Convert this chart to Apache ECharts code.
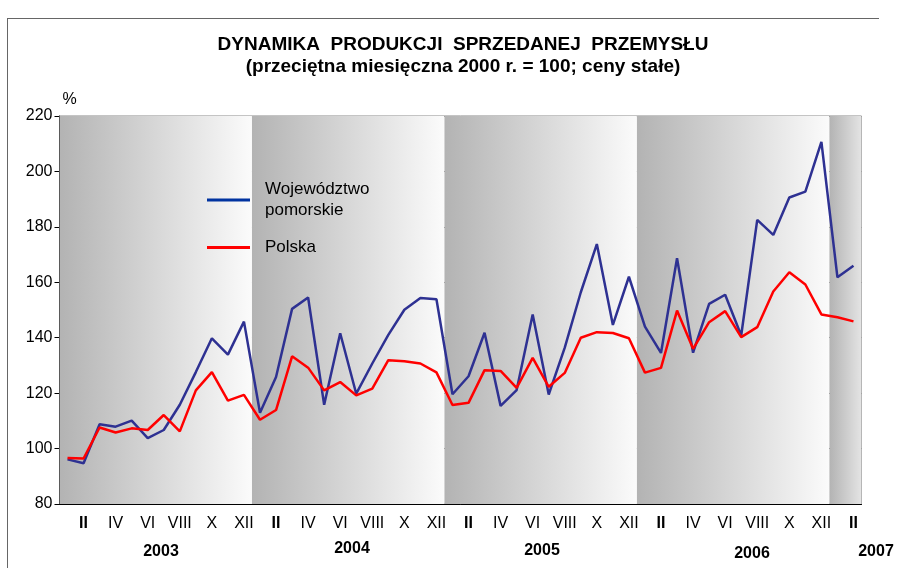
<!DOCTYPE html>
<html><head><meta charset="utf-8">
<script src="https://cdn.jsdelivr.net/npm/echarts@6/dist/echarts.min.js"></script>
<style>html,body{margin:0;padding:0;background:#fff}#c{width:898px;height:568px}</style>
</head><body><div id="c"></div>
<script>
const years = ['2003', '2004', '2005', '2006', '2007'];
const monthLabels = ['I','II','III','IV','V','VI','VII','VIII','IX','X','XI','XII'];
const monthsInLastYear = 2;
const pomorskie = [
  96.1, 94.7, 108.8, 107.9, 110.1, 103.8, 106.7, 115.8, 127.6, 139.8, 133.9, 145.8,
  112.9, 125.8, 150.4, 154.5, 115.8, 141.6, 119.8, 130.7, 141.0, 150.1, 154.3, 153.9,
  119.6, 126.1, 141.8, 115.4, 121.1, 148.4, 119.5, 136.4, 156.4, 173.8, 144.6, 162.0,
  144.0, 134.5, 168.7, 134.6, 152.2, 155.5, 140.8, 182.5, 177.1, 190.6, 192.7, 210.7,
  161.8, 166.0
];
const polska = [
  96.6, 96.4, 107.6, 105.8, 107.3, 106.7, 112.1, 106.2, 121.0, 127.6, 117.3, 119.4,
  110.4, 113.9, 133.3, 129.2, 121.0, 124.0, 119.2, 121.6, 131.9, 131.5, 130.7, 127.5,
  115.7, 116.5, 128.3, 128.0, 121.9, 132.7, 122.3, 127.3, 140.0, 142.0, 141.7, 139.8,
  127.4, 129.1, 149.8, 136.0, 145.6, 149.6, 140.2, 143.8, 156.7, 163.6, 159.2, 148.4,
  147.4, 145.9
];
const yAxisMin = 80, yAxisMax = 220, yAxisStep = 20;
const seriesNames = ['Województwo\npomorskie', 'Polska'];

// categories built from years x months
const categories = [];
years.forEach((y, yi) => {
  const n = yi === years.length - 1 ? monthsInLastYear : 12;
  for (let m = 0; m < n; m++) categories.push(monthLabels[m] + ' ' + y);
});

// background year bands (on hidden value axis measured in months)
const bandAreas = [];
years.forEach((y, yi) => {
  const start = yi * 12;
  const end = Math.min(start + 12, categories.length);
  const last = end - start < 12;
  bandAreas.push([{
    xAxis: start,
    itemStyle: {
      color: new echarts.graphic.LinearGradient(0, 0, 1, 0, [
        { offset: 0, color: '#b3b3b3' },
        { offset: 1, color: last ? '#e4e4e4' : '#fbfbfb' }
      ])
    }
  }, { xAxis: end }]);
});

const FONT = '"Liberation Sans", Arial, sans-serif';
const chart = echarts.init(document.getElementById('c'), null, { renderer: 'canvas' });

const yearLabelX = [161, 352, 542, 752, 876];
const yearLabelY = [552, 549, 551, 554, 552];

const option = {
  animation: false,
  backgroundColor: '#ffffff',
  title: {
    text: 'DYNAMIKA  PRODUKCJI  SPRZEDANEJ  PRZEMYSŁU\n(przeciętna miesięczna 2000 r. = 100; ceny stałe)',
    left: 463, top: 34, textAlign: 'center', padding: 0,
    textStyle: { fontFamily: FONT, fontSize: 19, fontWeight: 'bold', color: '#000', lineHeight: 22 }
  },
  legend: {
    orient: 'vertical', left: 207, top: 179, itemWidth: 43, itemHeight: 3, itemGap: 16,
    padding: 0, icon: 'rect',
    textStyle: { fontFamily: FONT, fontSize: 17, color: '#000', lineHeight: 21, padding: [0, 0, 0, 10] },
    itemStyle: { borderWidth: 0 },
    data: [
      { name: seriesNames[0], itemStyle: { color: '#0033a0' } },
      { name: seriesNames[1], itemStyle: { color: '#ff0000' } }
    ],
    selectedMode: false
  },
  grid: { left: 59.5, top: 116, width: 802, height: 388, show: true, borderColor: '#888', borderWidth: 1, backgroundColor: 'transparent' },
  xAxis: [{
    type: 'category', data: categories, boundaryGap: true,
    axisLine: { lineStyle: { color: '#000', width: 1 } },
    axisTick: { interval: 0, length: 5, lineStyle: { color: '#000' } },
    axisLabel: {
      interval: (i) => i % 2 === 1, margin: 12,
      fontFamily: FONT, fontSize: 16, color: '#000',
      formatter: (v) => {
        const m = v.split(' ')[0];
        return m === 'II' ? '{b|' + m + '}' : m;
      },
      rich: { b: { fontFamily: FONT, fontSize: 16, fontWeight: 'bold', color: '#000' } }
    },
    splitLine: { show: false }
  }, {
    type: 'value', min: 0, max: categories.length, show: false
  }],
  yAxis: {
    type: 'value', min: yAxisMin, max: yAxisMax, interval: yAxisStep,
    name: '%', nameLocation: 'end', nameGap: 8,
    nameTextStyle: { fontFamily: FONT, fontSize: 16, color: '#000', align: 'left', padding: [0, 0, 0, 3] },
    axisLine: { show: true, lineStyle: { color: '#000', width: 1 } },
    axisTick: { show: true, length: 5, lineStyle: { color: '#000' } },
    axisLabel: { fontFamily: FONT, fontSize: 16, color: '#000', margin: 7 },
    splitLine: { show: true, lineStyle: { color: '#3a3a3a', width: 1 } }
  },
  series: [
    {
      type: 'line', xAxisIndex: 1, z: -1, data: [[0, yAxisMin]], showSymbol: false, silent: true,
      lineStyle: { opacity: 0 },
      markArea: { silent: true, data: bandAreas }
    },
    {
      name: seriesNames[0], type: 'line', data: pomorskie, showSymbol: false, symbol: 'none',
      lineStyle: { color: '#2e3192', width: 2.5 }, itemStyle: { color: '#0033a0' }, z: 3
    },
    {
      name: seriesNames[1], type: 'line', data: polska, showSymbol: false, symbol: 'none',
      lineStyle: { color: '#ff0000', width: 2.5 }, itemStyle: { color: '#ff0000' }, z: 4
    }
  ],
  graphic: [
    { type: 'line', shape: { x1: 7, y1: 18.5, x2: 879, y2: 18.5 }, style: { stroke: '#666', lineWidth: 1 }, z: 100 },
    { type: 'line', shape: { x1: 7.5, y1: 18, x2: 7.5, y2: 568 }, style: { stroke: '#666', lineWidth: 1 }, z: 100 }
  ].concat(years.map((y, i) => ({
    type: 'text', x: yearLabelX[i], y: yearLabelY[i], z: 100,
    style: { text: y, font: 'bold 16px ' + FONT, fill: '#000', align: 'center', verticalAlign: 'middle' }
  })))
};
chart.setOption(option);
</script>
</body></html>
